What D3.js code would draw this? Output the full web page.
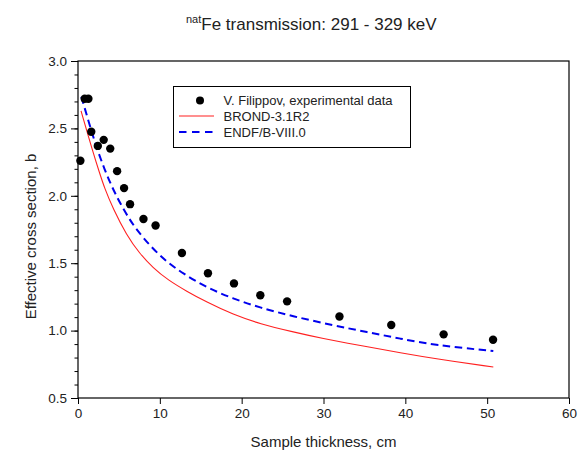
<!DOCTYPE html>
<html>
<head>
<meta charset="utf-8">
<script src="https://cdn.jsdelivr.net/npm/d3@7"></script>
<style>
  html, body { margin: 0; padding: 0; background: #fff; }
  svg { display: block; font-family: "Liberation Sans", Arial, sans-serif; }
</style>
</head>
<body>
<svg id="chart" width="580" height="452"></svg>
<script>
// ---- data ----
const expX = [0.29, 0.82, 1.27, 1.62, 2.42, 3.14, 3.94, 4.78, 5.63, 6.36, 8.0, 9.48, 12.7, 15.88, 19.06, 22.28, 25.55, 31.95, 38.28, 44.68, 50.72];
const expY = [2.26, 2.72, 2.72, 2.475, 2.37, 2.415, 2.35, 2.183, 2.057, 1.938, 1.828, 1.78, 1.576, 1.425, 1.35, 1.262, 1.217, 1.105, 1.041, 0.972, 0.932];

const brondX = [0.37, 1.8, 2.66, 3.23, 4.28, 5.92, 7.55, 9.18, 11.0, 13.27, 15.7, 18.97, 22.24, 26.3, 29.6, 35.3, 39.4, 43.5, 50.75];
const brondY = [2.63, 2.33, 2.165, 2.06, 1.905, 1.71, 1.57, 1.465, 1.375, 1.292, 1.212, 1.118, 1.05, 0.99, 0.945, 0.88, 0.835, 0.792, 0.73];

const endfX = [0.41, 1.35, 2.2, 3.27, 4.2, 5.1, 6.24, 7.15, 8.78, 10.82, 12.85, 15.7, 18.97, 22.24, 26.3, 31.2, 35.3, 39.4, 43.5, 50.75];
const endfY = [2.735, 2.54, 2.37, 2.19, 2.06, 1.95, 1.83, 1.75, 1.63, 1.51, 1.423, 1.319, 1.237, 1.17, 1.105, 1.039, 0.989, 0.94, 0.893, 0.848];

const xTicks = [0, 10, 20, 30, 40, 50, 60];
const yTicks = [0.5, 1.0, 1.5, 2.0, 2.5, 3.0];
const yMinorTicks = d3.range(5, 31).map(d => d / 10);

const seriesNames = ["V. Filippov, experimental data", "BROND-3.1R2", "ENDF/B-VIII.0"];
const titleMain = "Fe transmission: 291 - 329 keV";
const titleSup = "nat";
const xTitle = "Sample thickness, cm";
const yTitle = "Effective cross section, b";

// ---- layout ----
const W = 580, H = 452;
const m = { left: 78, right: 11, top: 61, bottom: 54 };
const iw = W - m.left - m.right, ih = H - m.top - m.bottom;

const svg = d3.select("#chart");
const g = svg.append("g").attr("transform", `translate(${m.left},${m.top})`);

const x = d3.scaleLinear().domain([0, 60]).range([0, iw]);
const y = d3.scaleLinear().domain([0.5, 3.0]).range([ih, 0]);

// frame
g.append("rect").attr("x", 0).attr("y", 0).attr("width", iw).attr("height", ih)
  .attr("fill", "none").attr("stroke", "#000").attr("stroke-width", 1.2);

// x axis
const xAxis = g.append("g").attr("transform", `translate(0,${ih})`)
  .call(d3.axisBottom(x).tickValues(xTicks).tickFormat(d3.format("d")).tickSize(6).tickPadding(4));
xAxis.select(".domain").remove();
xAxis.selectAll("line").attr("stroke", "#000").attr("stroke-width", 1);
xAxis.selectAll("text").attr("font-size", 13.5).attr("fill", "#222").attr("font-family", "Liberation Sans, Arial, sans-serif");

// y minor ticks
const yMinor = g.append("g")
  .call(d3.axisLeft(y).tickValues(yMinorTicks).tickSize(3.5).tickFormat(""));
yMinor.select(".domain").remove();
yMinor.selectAll("line").attr("stroke", "#000");

// y axis major
const yAxis = g.append("g")
  .call(d3.axisLeft(y).tickValues(yTicks).tickFormat(d3.format(".1f")).tickSize(7).tickPadding(4));
yAxis.select(".domain").remove();
yAxis.selectAll("line").attr("stroke", "#000");
yAxis.selectAll("text").attr("font-size", 13.5).attr("fill", "#222").attr("font-family", "Liberation Sans, Arial, sans-serif");

// lines
const line = d3.line().x(d => x(d[0])).y(d => y(d[1])).curve(d3.curveBasis);
const brond = brondX.map((v, i) => [v, brondY[i]]);
const endf = endfX.map((v, i) => [v, endfY[i]]);

g.append("path").datum(brond).attr("d", line)
  .attr("fill", "none").attr("stroke", "#ff2020").attr("stroke-width", 1.1);
g.append("path").datum(endf).attr("d", line)
  .attr("fill", "none").attr("stroke", "#0000ee").attr("stroke-width", 2)
  .attr("stroke-dasharray", "7.5,4.5");

// points
g.append("g").selectAll("circle").data(expX.map((v, i) => [v, expY[i]])).join("circle")
  .attr("cx", d => x(d[0])).attr("cy", d => y(d[1])).attr("r", 4.2).attr("fill", "#000");

// legend
const lg = svg.append("g");
lg.append("rect").attr("x", 173.5).attr("y", 86.5).attr("width", 237).attr("height", 61)
  .attr("fill", "#fff").attr("stroke", "#000").attr("stroke-width", 1);
const rowY = [100.5, 116, 132];
lg.append("circle").attr("cx", 200).attr("cy", rowY[0]).attr("r", 4).attr("fill", "#000");
lg.append("line").attr("x1", 179).attr("x2", 214).attr("y1", rowY[1]).attr("y2", rowY[1])
  .attr("stroke", "#ff2020").attr("stroke-width", 1.1);
lg.append("line").attr("x1", 179).attr("x2", 214).attr("y1", rowY[2]).attr("y2", rowY[2])
  .attr("stroke", "#0000ee").attr("stroke-width", 2).attr("stroke-dasharray", "7.5,5.5");
seriesNames.forEach((s, i) => {
  lg.append("text").attr("x", 223.5).attr("y", rowY[i]).attr("dy", "0.36em")
    .attr("font-size", 13).attr("fill", "#222").text(s);
});

// title
const t = svg.append("text").attr("x", 186).attr("y", 30).attr("fill", "#222");
t.append("tspan").attr("font-size", 11).attr("dy", -7).text(titleSup);
t.append("tspan").attr("font-size", 17).attr("dy", 7).text(titleMain);

// axis titles
svg.append("text").attr("x", m.left + iw / 2).attr("y", 447).attr("text-anchor", "middle")
  .attr("font-size", 15).attr("fill", "#222").text(xTitle);
svg.append("text").attr("transform", `translate(36,${m.top + ih / 2 + 7}) rotate(-90)`)
  .attr("text-anchor", "middle").attr("font-size", 15).attr("fill", "#222").text(yTitle);
</script>
</body>
</html>
